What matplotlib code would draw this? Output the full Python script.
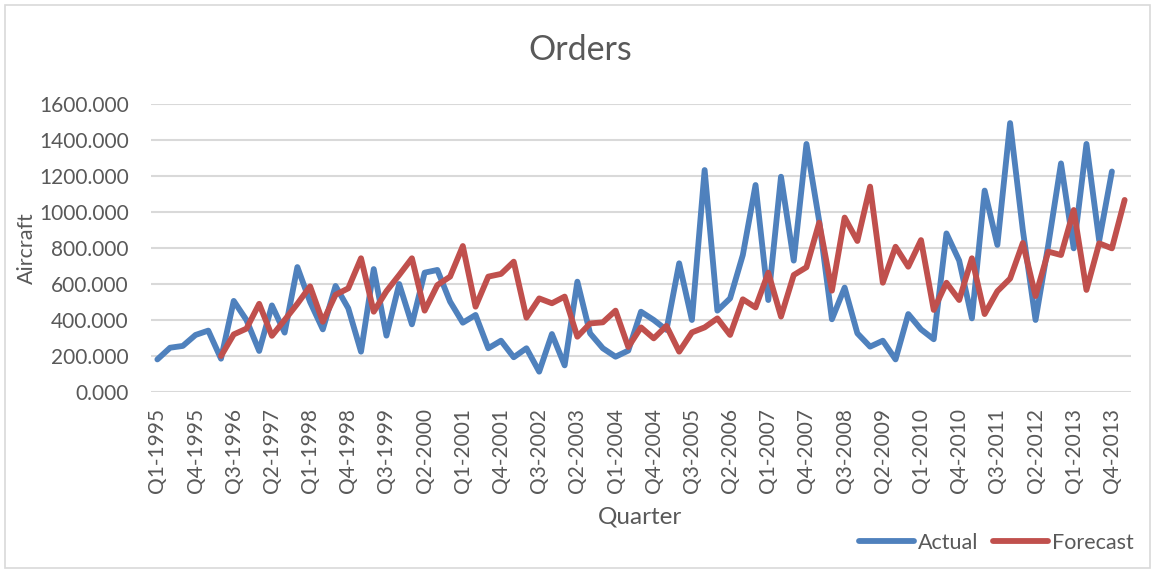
import numpy as np
import matplotlib
matplotlib.use("Agg")
import matplotlib.pyplot as plt
from matplotlib.patches import Rectangle

# ---- data ----
years = list(range(1995, 2015))
quarters = [f"Q{q}-{y}" for y in years for q in (1, 2, 3, 4)][:77]  # Q1-1995 .. Q1-2014

actual = [181, 246, 256, 317, 341, 185, 506, 400, 228, 481,
          330, 694, 500, 348, 589, 465, 224, 683, 313, 600,
          376, 663, 678, 502, 385, 428, 243, 285, 193, 243,
          113, 322, 148, 613, 326, 243, 196, 230, 446, 400,
          345, 715, 400, 1233, 452, 520, 761, 1150, 511, 1196,
          730, 1378, 950, 404, 580, 326, 252, 285, 181, 433,
          348, 293, 881, 730, 409, 1119, 817, 1494, 900, 400,
          817, 1270, 798, 1378, 841, 1225]

forecast_start = 5
forecast = [200, 320, 352, 490, 312, 400, 490, 587, 390, 540,
            576, 743, 446, 560, 650, 743, 452, 594, 641, 811,
            474, 641, 656, 724, 413, 520, 493, 530, 307, 381,
            387, 452, 250, 359, 298, 367, 224, 331, 359, 409,
            317, 515, 470, 663, 419, 650, 693, 941, 563, 969,
            839, 1141, 607, 807, 696, 844, 456, 607, 511, 743,
            433, 560, 630, 828, 533, 780, 761, 1011, 567, 826,
            798, 1067]

tick_step = 3
yticks = [0, 200, 400, 600, 800, 1000, 1200, 1400, 1600]

# ---- style ----
FONT = "Lato"
GRAY = "#595959"
GRID = "#D9D9D9"
BLUE = "#4F81BD"
RED = "#C0504D"

W, H = 1155, 573
fig = plt.figure(figsize=(W / 100, H / 100), dpi=100)
plt.rcParams["font.family"] = [FONT, "DejaVu Sans"]

left, right, top, bottom = 151, 1131, 104, 392
ax = fig.add_axes([left / W, 1 - bottom / H, (right - left) / W, (bottom - top) / H])

x_act = np.arange(len(actual))
x_fc = np.arange(forecast_start, forecast_start + len(forecast))
lw = 4.2
ax.plot(x_act, actual, color=BLUE, lw=lw, solid_joinstyle="round",
        solid_capstyle="round", label="Actual", zorder=3)
ax.plot(x_fc, forecast, color=RED, lw=lw, solid_joinstyle="round",
        solid_capstyle="round", label="Forecast", zorder=3)

ax.set_xlim(-0.5, len(quarters) - 0.5)
ax.set_ylim(0, 1600)
ax.set_yticks(yticks)
ax.set_yticklabels([f"{v:.3f}" for v in yticks])
tick_idx = list(range(0, len(quarters), tick_step))[:26]
ax.set_xticks(tick_idx)
ax.set_xticklabels([quarters[i] for i in tick_idx], rotation=90)

ax.grid(axis="y", color=GRID, lw=1.5, zorder=0)
for s in ax.spines.values():
    s.set_visible(False)
ax.tick_params(axis="both", length=0, colors=GRAY)
ax.tick_params(axis="y", pad=16, labelsize=15)
ax.tick_params(axis="x", pad=11.5, labelsize=15)

fig.text(580 / W, 1 - 50 / H, "Orders", ha="center", va="center",
         fontsize=24.5, color=GRAY)
fig.text(27 / W, 1 - 248 / H, "Aircraft", ha="center", va="center",
         rotation=90, fontsize=15.5, color=GRAY)
fig.text(640 / W, 1 - 517 / H, "Quarter", ha="center", va="center",
         fontsize=17.5, color=GRAY)

leg = fig.legend(loc="center right", bbox_to_anchor=(1134 / W, 1 - 543 / H),
                 ncol=2, frameon=False, fontsize=15.5, handlelength=2.55,
                 handletextpad=0.18, columnspacing=0.7, borderpad=0,
                 borderaxespad=0)
for t in leg.get_texts():
    t.set_color(GRAY)

fig.patches.append(Rectangle((5 / W, 5 / H), 1 - 10 / W, 1 - 10 / H,
                             transform=fig.transFigure, fill=False,
                             edgecolor=GRID, lw=1.2))

fig.savefig("out.png", dpi=100)
